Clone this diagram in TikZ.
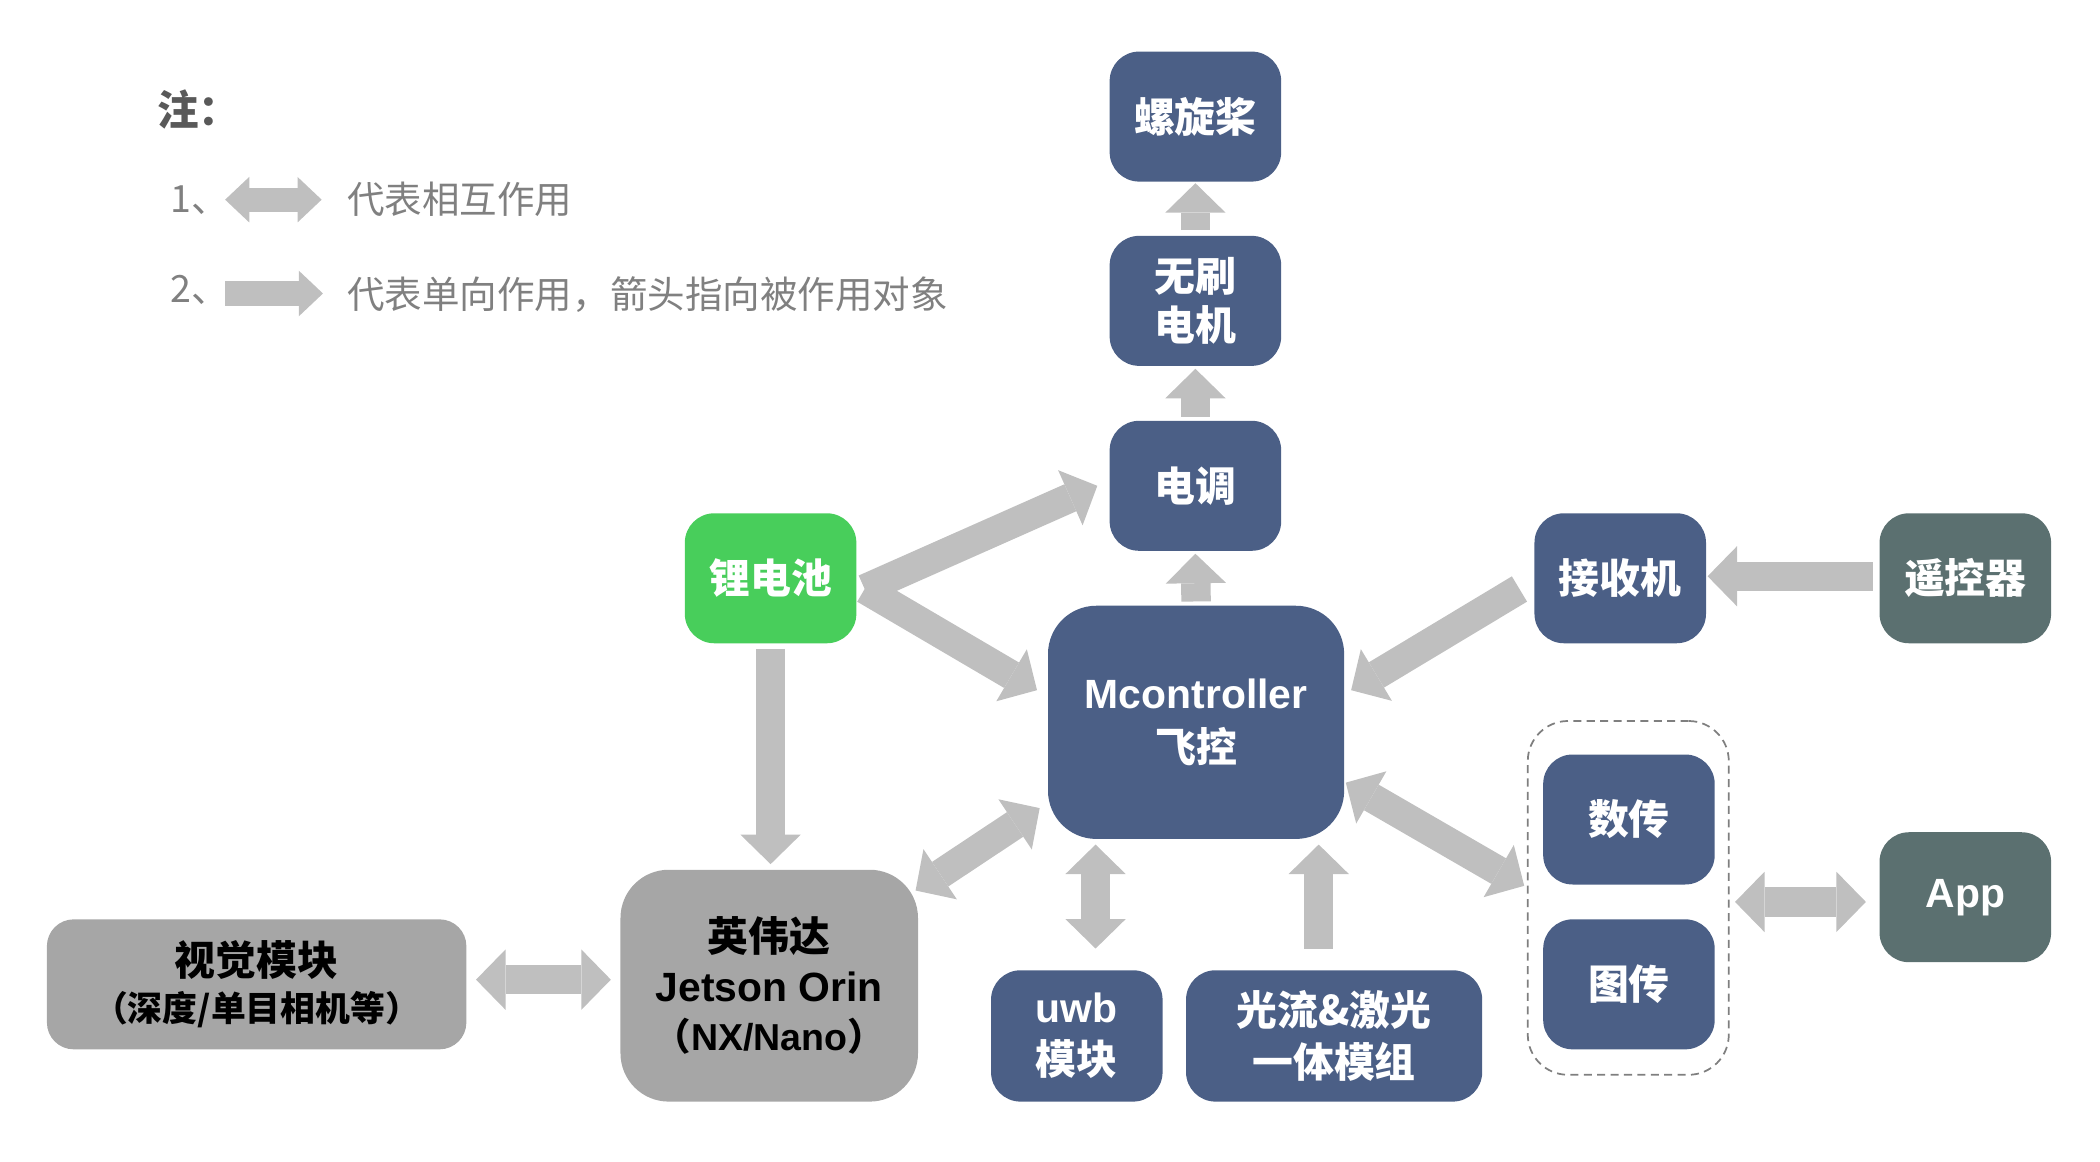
\documentclass[tikz,border=0pt]{standalone}
\usepackage{fontspec}
\setmainfont{Liberation Sans}
\newfontfamily\cjk{Noto Sans CJK SC}
\newfontfamily\cjkh{Noto Sans CJK SC}[RawFeature=+halt]
\newfontfamily\lat{Liberation Sans}
\usetikzlibrary{arrows.meta,calc}
\definecolor{boxblue}{HTML}{4B5F86}
\definecolor{battgreen}{HTML}{48CE5B}
\definecolor{slate}{HTML}{5B7070}
\definecolor{boxgray}{HTML}{A6A6A6}
\definecolor{arrowgray}{HTML}{BFBFBF}
\definecolor{dashgray}{HTML}{7F7F7F}
\definecolor{legendgray}{HTML}{808080}
\definecolor{notegray}{HTML}{595959}
\tikzset{
  BT/.tip={Triangle[width=45pt,length=22pt,line width=0pt]},
  ST/.tip={Triangle[width=34pt,length=18pt,line width=0pt]},
  sarrow/.style={draw=arrowgray, line width=22pt, -BT},
  darrow/.style={draw=arrowgray, line width=22pt, BT-BT},
  lsarrow/.style={draw=arrowgray, line width=18pt, -ST},
  ldarrow/.style={draw=arrowgray, line width=18pt, ST-ST},
  box/.style={rounded corners=22pt, minimum width=128pt, minimum height=97pt,
    inner sep=0pt, align=center, text=white,
    font=\cjk\bfseries\fontsize{30.5}{37}\selectfont},
  legtext/.style={anchor=west, inner sep=0pt, text=legendgray,
    font=\cjk\fontsize{28}{28}\selectfont},
}
\begin{document}
\begin{tikzpicture}[x=1pt,y=-1pt]
\useasboundingbox (0,0) rectangle (1567,867);

% legend
\node[anchor=west, inner sep=0pt, text=notegray, font=\cjk\bfseries\fontsize{31}{31}\selectfont] (note) at (117,82) {注：};
\node[legtext] (n1) at (127,149) {1、};
\coordinate (l1a) at (168,149);
\coordinate (l1b) at (240,149);
\draw[ldarrow] (l1a) -- (l1b);
\node[legtext] (t1) at (259,149) {代表相互作用};
\node[legtext] (n2) at (127,216) {2、};
\coordinate (l2a) at (168,219);
\coordinate (l2b) at (241,219);
\draw[lsarrow] (l2a) -- (l2b);
\node[legtext] (t2) at (259,220) {代表单向作用，箭头指向被作用对象};

% dashed group
\node[draw=dashgray, dashed, dash pattern=on 6pt off 4pt, line width=1.3pt,
  rounded corners=30pt, minimum width=150pt, minimum height=264pt, inner sep=0pt] (grp) at (1215,670) {};

% boxes
\node[box, fill=boxblue] (prop) at (892,87) {螺旋桨};
\node[box, fill=boxblue] (motor) at (892,224.5) {无刷\\电机};
\node[box, fill=boxblue] (esc) at (892,362.5) {电调};
\node[box, fill=boxblue, minimum width=221pt, minimum height=174pt, rounded corners=36pt,
  font=\cjk\bfseries\fontsize{30.5}{40}\selectfont] (fc) at (892.5,539) {{\lat Mcontroller}\\飞控};
\node[box, fill=battgreen] (batt) at (575,431.5) {锂电池};
\node[box, fill=boxblue] (rx) at (1209,431.5) {接收机};
\node[box, fill=slate] (rc) at (1466.5,431.5) {遥控器};
\node[box, fill=boxblue] (dt) at (1215.5,611.5) {数传};
\node[box, fill=boxblue] (vt) at (1215.5,734.5) {图传};
\node[box, fill=slate] (app) at (1466.5,669.5) {{\lat App}};
\node[box, fill=boxblue, minimum height=98pt,
  font=\cjk\bfseries\fontsize{30.5}{39}\selectfont] (uwb) at (803.5,773) {{\lat uwb}\\模块};
\node[box, fill=boxblue, minimum width=221pt, minimum height=98pt,
  font=\cjk\bfseries\fontsize{30.5}{39}\selectfont] (of) at (995.5,773) {光流\&激光\\一体模组};
\node[box, fill=boxgray, text=black, minimum width=222pt, minimum height=173pt, rounded corners=36pt] (jet) at (574,735.5)
  {英伟达\\{\lat Jetson Orin}\\{\fontsize{28}{35}\selectfont {\cjkh\bfseries （}{\lat NX/Nano}{\cjkh\bfseries ）}}};
\node[box, fill=boxgray, text=black, minimum width=313pt, rounded corners=20pt,
  font=\cjk\bfseries\fontsize{30.5}{34}\selectfont] (vis) at (191.5,734.5)
  {视觉模块\\{\fontsize{26}{34}\selectfont {\cjkh\bfseries （}深度/单目相机等{\cjkh\bfseries ）}}};

% connectors
\draw[sarrow] ($(motor.north)+(0,-4)$) -- ($(prop.south)+(0,1)$);
\draw[sarrow] ($(esc.north)+(0,-3)$) -- ($(motor.south)+(0,2)$);
\draw[sarrow] ($(fc.north)+(0,-3)$) -- ($(esc.south)+(0,2)$);
\coordinate (bv) at ($(batt.east)+(6,8)$);
\draw[sarrow] (bv) -- ($(esc.west)+(-9,0)$);
\draw[sarrow] (bv) -- ($(fc.west)+(-8,-24)$);
\draw[sarrow] ($(batt.south)+(0,4)$) -- ($(jet.north)+(1,-4)$);
\draw[sarrow] ($(rx.west)+(-11,8)$) -- ($(fc.east)+(5,-24)$);
\draw[sarrow] ($(rc.west)+(-5,-1.5)$) -- ($(rx.east)+(1,-1.5)$);
\draw[darrow] ($(fc.east)+(1,45)$) -- ($(grp.west)+(-2,-9)$);
\draw[darrow] ($(jet.east)+(-2,-71)$) -- ($(fc.west)+(-6,64)$);
\draw[darrow] ($(fc.south)+(-75,4)$) -- ($(uwb.north)+(14,-16)$);
\draw[sarrow] ($(of.north)+(-11.5,-16)$) -- ($(fc.south)+(91.5,4)$);
\draw[darrow] ($(vis.east)+(7,-3.5)$) -- ($(jet.west)+(-7,-4.5)$);
\draw[darrow] ($(grp.east)+(4,3)$) -- ($(app.west)+(-10,3.5)$);
\end{tikzpicture}
\end{document}
